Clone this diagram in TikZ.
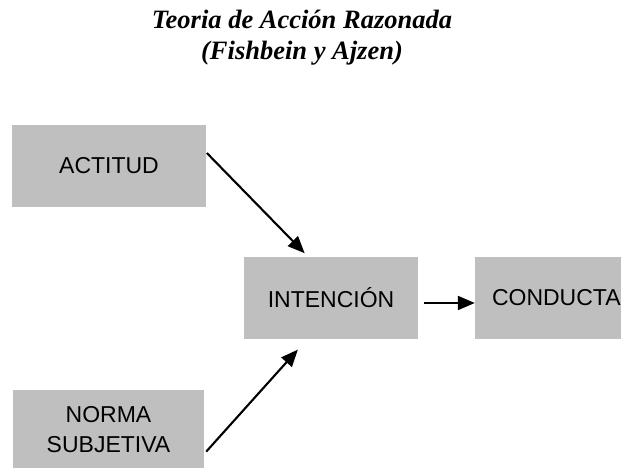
\documentclass[tikz,border=0pt]{standalone}
\usepackage{fontspec}
\setmainfont{Liberation Serif}
\setsansfont{Liberation Sans}
\usetikzlibrary{arrows.meta}
\begin{document}
\begin{tikzpicture}[x=1pt,y=-1pt,
    box/.style={fill=black!25,draw=none,inner sep=0pt,align=center,
      font=\sffamily\fontsize{23}{30}\selectfont},
    arr/.style={line width=2.1pt,>={Triangle[length=17pt,width=14pt]},->}]

      \clip (0,0) rectangle (621,468);

      \node[align=center,font=\bfseries\itshape\fontsize{26.5}{31}\selectfont] (title) at (302,38) {Teoria de Acción Razonada\\(Fishbein y Ajzen)};

      \node[box,minimum width=194pt,minimum height=82pt] (actitud) at (109,166) {\raisebox{-2pt}{ACTITUD}};
      \node[box,minimum width=174pt,minimum height=82pt] (intencion) at (331,298) {\raisebox{-3pt}{INTENCIÓN}};
      \node[box,minimum width=190pt,minimum height=82pt,text width=156pt,align=left] (conducta) at (570,298) {\raisebox{-3pt}{CONDUCTA}};
      \node[box,minimum width=191pt,minimum height=80pt] (norma) at (108.5,430) {NORMA\\SUBJETIVA};

      \draw[arr,shorten <=1pt,shorten >=5pt] (actitud.8) -- (intencion.119);
      \draw[arr,shorten <=3pt,shorten >=14pt] (norma.-14) -- (intencion.240);
      \draw[arr] ([xshift=6pt,yshift=-5pt]intencion.east) -- ([yshift=-5pt]conducta.west);

    \end{tikzpicture}
\end{document}
